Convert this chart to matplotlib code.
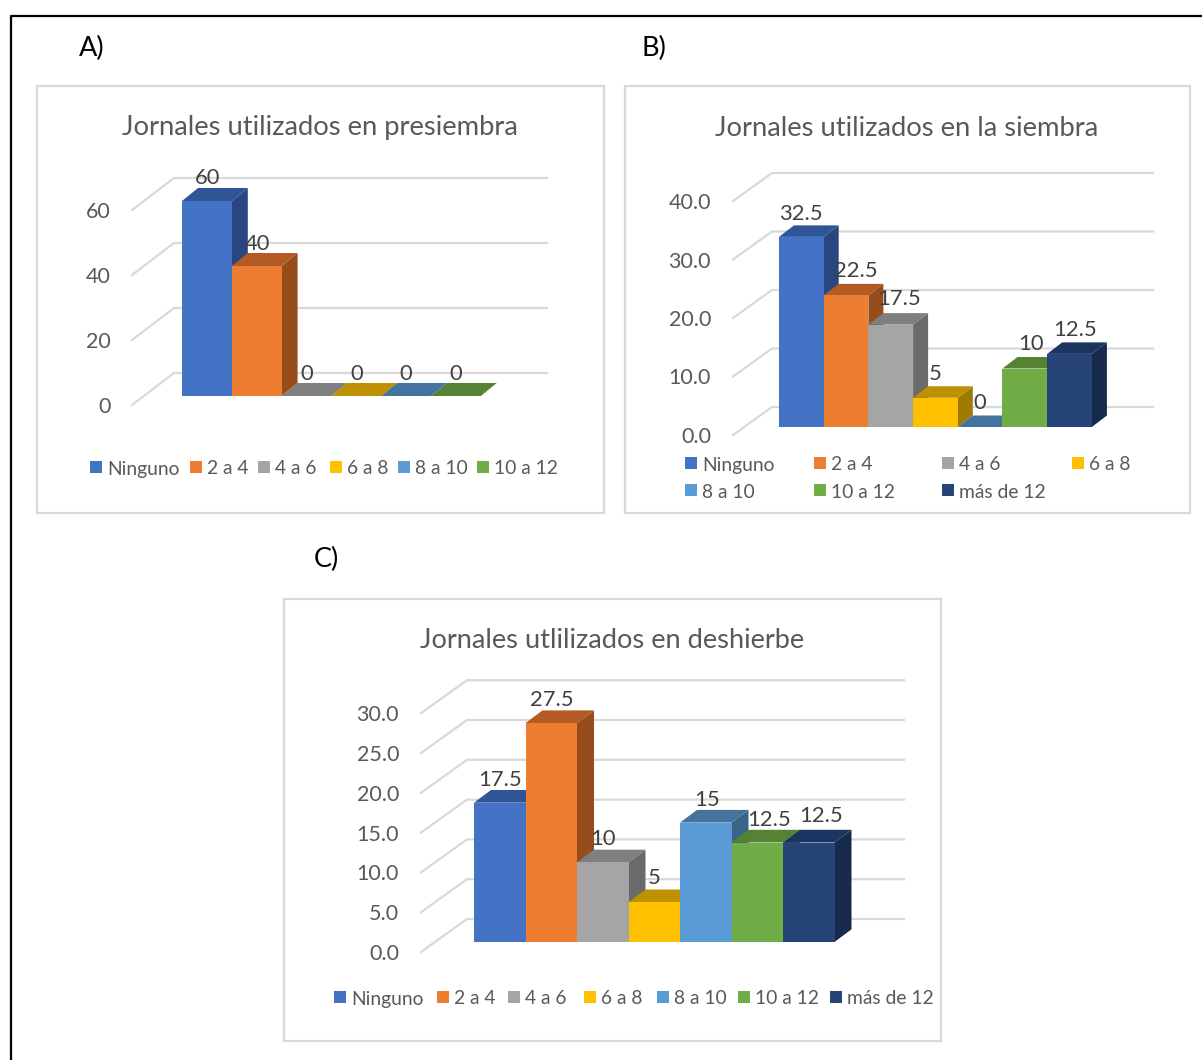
import matplotlib
matplotlib.use('Agg')
import matplotlib.pyplot as plt
from matplotlib.patches import Polygon, Rectangle

W, H = 1202, 1060
plt.rcParams['font.family'] = ['Lato', 'DejaVu Sans']

categories_a = ['Ninguno', '2 a 4', '4 a 6', '6 a 8', '8 a 10', '10 a 12']
categories = ['Ninguno', '2 a 4', '4 a 6', '6 a 8', '8 a 10', '10 a 12', 'más de 12']

values_a = [60, 40, 0, 0, 0, 0]
values_b = [32.5, 22.5, 17.5, 5, 0, 10, 12.5]
values_c = [17.5, 27.5, 10, 5, 15, 12.5, 12.5]

ticks_a = [0, 20, 40, 60]
ticks_b = [0, 10, 20, 30, 40]
ticks_c = [0, 5, 10, 15, 20, 25, 30]

front_colors = ['#4472c4', '#ed7d31', '#a5a5a5', '#ffc000', '#5b9bd5', '#70ad47', '#264478']
top_colors = ['#2f5597', '#b25b23', '#7f7f7f', '#bf9000', '#44749e', '#558235', '#1c3560']
side_colors = ['#2a4680', '#954e1b', '#6a6a6a', '#a07a00', '#3a6488', '#4a7030', '#172a4b']

GRID = '#d9d9d9'
TEXT = '#595959'
LABEL = '#404040'
# Lato sits a little high with va='center'
TEXT_SHIFT = 2


def draw_panel(fig, frame, title, title_x, title_y, cats, vals, ticks, tick_fmt,
               bar_left, bar_w, base_y, unit, depth, wall_x, wall_y0, back_x, back_y0,
               grid_right, tick_right, label_dx, label_up, legend_pos, sizes):
    x0, y0, x1, y1 = frame
    ax = fig.add_axes([x0 / W, 1 - y1 / H, (x1 - x0) / W, (y1 - y0) / H])

    # pixel position -> data position, bars sit at integer x and grow from y=0
    X = lambda px: (px - bar_left) / bar_w - 0.5
    Y = lambda py: (base_y - py) / unit
    ax.set_xlim(X(x0), X(x1))
    ax.set_ylim(Y(y1), Y(y0))
    ax.set_xticks([])
    ax.set_yticks([])
    for s in ax.spines.values():
        s.set_color(GRID)
        s.set_linewidth(1.6)

    dx = depth[0] / bar_w
    dy = depth[1] / unit

    # floor/back wall lines
    off_front = Y(wall_y0)
    off_back = Y(back_y0)
    for t in ticks:
        ax.plot([X(wall_x), X(back_x), X(grid_right)],
                [t + off_front, t + off_back, t + off_back],
                color=GRID, lw=1.6, zorder=0.5, solid_joinstyle='miter')
        ax.text(X(tick_right), t + off_front - TEXT_SHIFT / unit, tick_fmt % t, ha='right',
                va='center', color=TEXT, fontsize=sizes['tick'])

    # left to right so each bar hides the one before it
    for i, v in enumerate(vals):
        l = i - 0.5
        r = i + 0.5
        ax.add_patch(Polygon([(r, 0), (r + dx, dy), (r + dx, v + dy), (r, v)],
                             facecolor=side_colors[i], edgecolor='none', zorder=1))
        ax.add_patch(Polygon([(l, v), (r, v), (r + dx, v + dy), (l + dx, v + dy)],
                             facecolor=top_colors[i], edgecolor='none', zorder=1))
        ax.bar(i, v, width=1.0, color=front_colors[i], zorder=1)

    for i, v in enumerate(vals):
        ax.text(i + label_dx[i] / bar_w, v + (label_up[i] - TEXT_SHIFT) / unit, '%g' % v,
                ha='center', va='center', color=LABEL, fontsize=sizes['label'], zorder=3)

    ax.text(X(title_x), Y(title_y + TEXT_SHIFT), title, ha='center', va='center', color=TEXT,
            fontsize=sizes['title'])

    # legend entries are laid out by hand, rows like the office chart legend
    for i, (c, (lx, ly)) in enumerate(zip(cats, legend_pos)):
        ax.add_patch(Rectangle((X(lx), Y(ly + 6)), 12 / bar_w, 12 / unit,
                               facecolor=front_colors[i], edgecolor='none', zorder=2))
        ax.text(X(lx + 17), Y(ly + TEXT_SHIFT), c, ha='left', va='center', color=TEXT,
                fontsize=sizes['legend'])
    return ax


fig = plt.figure(figsize=(W / 100, H / 100), dpi=100, facecolor='white')

# outer black frame, only top and left are inside the page
fig.add_artist(plt.Line2D([11 / W, 11 / W, 1], [0, 1 - 16 / H, 1 - 16 / H], color='black', lw=1.6))

for txt, px, py in [('A)', 79, 47), ('B)', 642, 47), ('C)', 314, 558)]:
    fig.text(px / W, 1 - (py + 1) / H, txt, ha='left', va='center', color='black', fontsize=19.5)

sizes_ab = {'title': 19.7, 'tick': 15.5, 'label': 15.8, 'legend': 13.9}
sizes_c = {'title': 19.6, 'tick': 15.5, 'label': 15.8, 'legend': 13.9}

draw_panel(fig, (37, 86, 604, 513), 'Jornales utilizados en presiembra', 320, 126,
           categories_a, values_a, ticks_a, '%d',
           182, 49.8, 396, 3.25, (16, 13), 132, 405, 174, 373, 547, 111,
           [1, 1, 0, 0, 0, 0], [24.5, 24.5, 24.5, 24.5, 24.5, 24.5],
           [(90, 467), (190, 467), (258, 467), (330, 467), (398, 467), (477, 467)], sizes_ab)

draw_panel(fig, (625, 86, 1190, 513), 'Jornales utilizados en la siembra', 907, 126,
           categories, values_b, ticks_b, '%.1f',
           779, 44.7, 427, 5.85, (15, 11.5), 733, 435, 772, 407, 1153, 711,
           [0, 10, 8, 0, 0, 6, 6], [25, 26, 28, 26, 26, 26, 26],
           [(685, 463), (814, 463), (942, 463), (1072, 463),
            (685, 490), (814, 490), (942, 490)], sizes_ab)

draw_panel(fig, (284, 599, 941, 1041), 'Jornales utlilizados en deshierbe', 612, 638,
           categories, values_c, ticks_c, '%.1f',
           474, 51.5, 942, 7.96, (17, 12.7), 421, 952, 467, 919, 904, 399,
           [0, 1, 0, 0, 1, 12, 12], [25, 25, 25, 26, 25, 25, 28],
           [(334, 997), (437, 997), (508, 997), (584, 997),
            (657, 997), (738, 997), (830, 997)], sizes_c)

fig.savefig('out.png', dpi=100)
